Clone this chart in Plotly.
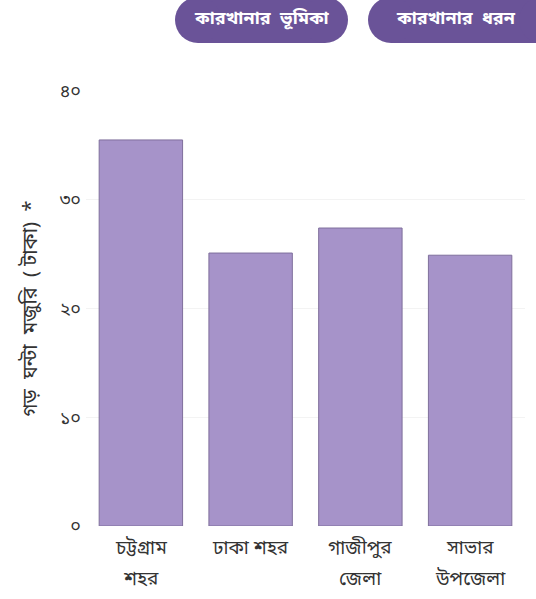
import plotly.graph_objects as go

categories = ["চট্টগ্রাম<br>শহর", "ঢাকা শহর", "গাজীপুর<br>জেলা", "সাভার<br>উপজেলা"]
values = [35.5, 25.1, 27.4, 24.9]
tick_vals = [0, 10, 20, 30, 40]
tick_text = ["০", "১০", "২০", "৩০", "৪০"]
y_title = "গড়\u00a0 ঘন্টা\u00a0 মজুরি\u00a0 ( টাকা)\u00a0 *"
button_labels = ["কারখানার\u00a0 ভূমিকা", "কারখানার\u00a0 ধরন"]

W, H = 536, 599
L, R, T, B = 86, 11, 91, 73
PW, PH = W - L - R, H - T - B

FONT = "Noto Sans Bengali, Noto Sans, sans-serif"
TXT = "#333333"

fig = go.Figure()
fig.add_trace(go.Bar(
    x=categories, y=values,
    marker=dict(color="#a693c9", line=dict(color="#7f6f9c", width=1)),
    hoverinfo="skip",
))


def pill(x0, x1, y0, y1, color="#6a5398"):
    r = (y1 - y0) / 2
    common = dict(xref="paper", yref="paper", xanchor=0, yanchor=1,
                  xsizemode="pixel", ysizemode="pixel",
                  fillcolor=color, line=dict(width=0), layer="above")
    sx = lambda px: px - L
    sy = lambda py: T - py
    return [
        dict(type="rect", x0=sx(x0 + r), x1=sx(x1 - r), y0=sy(y0), y1=sy(y1), **common),
        dict(type="circle", x0=sx(x0), x1=sx(x0 + 2 * r), y0=sy(y0), y1=sy(y1), **common),
        dict(type="circle", x0=sx(x1 - 2 * r), x1=sx(x1), y0=sy(y0), y1=sy(y1), **common),
    ]


shapes = pill(175, 348, -3, 43) + pill(368, 565, -3, 43)

annotations = []
for label, cx in zip(button_labels, [262, 456]):
    annotations.append(dict(
        text="<b>" + label + "</b>", x=(cx - L) / PW, y=1 + (T - 19) / PH,
        xref="paper", yref="paper", showarrow=False,
        font=dict(color="white", size=18, family=FONT),
        xanchor="center", yanchor="middle",
    ))

# category labels, one annotation per line for the wider line spacing
for cat in categories:
    for i, line in enumerate(cat.split("<br>")):
        annotations.append(dict(
            text=line, x=cat, y=0, xref="x", yref="y",
            yshift=-23 - 31 * i, showarrow=False,
            font=dict(size=19, color=TXT, family=FONT),
            xanchor="center", yanchor="middle",
        ))

fig.update_layout(
    width=W, height=H,
    margin=dict(l=L, r=R, t=T, b=B, autoexpand=False),
    paper_bgcolor="white", plot_bgcolor="white",
    bargap=0.24,
    showlegend=False,
    font=dict(family=FONT, color=TXT, size=15),
    shapes=shapes,
    annotations=annotations,
    xaxis=dict(showgrid=False, showline=False, ticks="", showticklabels=False),
    yaxis=dict(range=[0, 40], tickvals=tick_vals, ticktext=tick_text,
               showgrid=True, gridcolor="#f3f3f3", zeroline=False, showline=False,
               ticks="", ticklabelstandoff=4,
               tickfont=dict(size=18, color=TXT),
               title=dict(text=y_title, font=dict(size=20, color=TXT), standoff=16)),
)

fig.write_html("out.html", config={"displayModeBar": False},
               post_script="document.body.style.margin='0';")
